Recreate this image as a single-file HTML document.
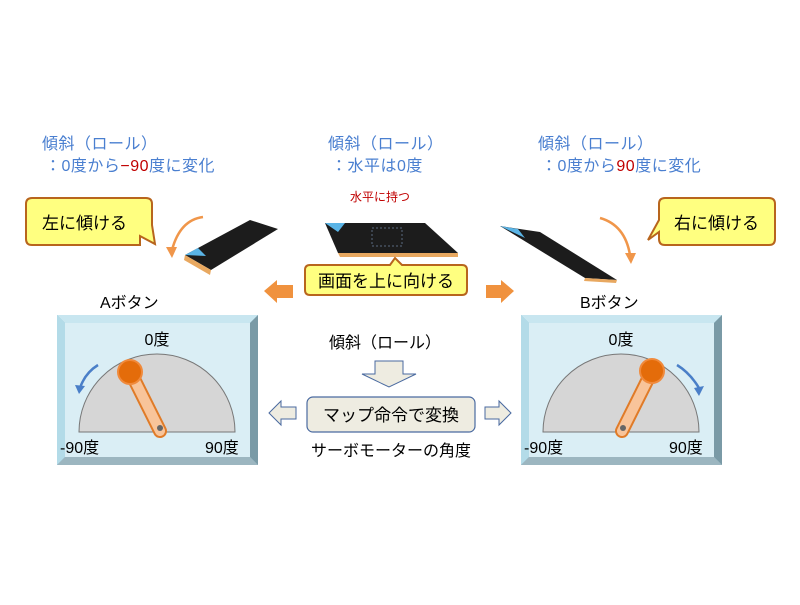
<!DOCTYPE html>
<html><head><meta charset="utf-8"><style>
html,body{margin:0;padding:0;background:#fff}
svg text{font-family:"Liberation Sans","Noto Sans CJK JP",sans-serif}
</style></head><body>
<svg width="800" height="600" viewBox="0 0 800 600" xmlns="http://www.w3.org/2000/svg">
<defs>
<g id="gauge">
  <rect x="0" y="0" width="201" height="150" fill="#8fc3d6"/>
  <polygon points="0,0 201,0 193,8 8,8" fill="#c8e6f0"/>
  <polygon points="0,0 8,8 8,142 0,150" fill="#b3dbe8"/>
  <polygon points="201,0 201,150 193,142 193,8" fill="#7a9aa6"/>
  <polygon points="0,150 201,150 193,142 8,142" fill="#9cb6c0"/>
  <rect x="8" y="8" width="185" height="134" fill="#daeef5"/>
  <path d="M22,117 A78,78 0 0 1 178,117 Z" fill="#d6d6d6" stroke="#777" stroke-width="1"/>
  <text x="100" y="30" font-size="16" text-anchor="middle">0度</text>
  <text x="3" y="138" font-size="16">-90度</text>
  <text x="148" y="138" font-size="16">90度</text>
</g>
</defs>

<!-- top labels -->
<g font-size="16" fill="#4a7fd0" letter-spacing="0.5">
<text x="42" y="149">傾斜（ロール）</text>
<text x="45" y="171">：0度から<tspan fill="#c00000">−90</tspan>度に変化</text>
<text x="328" y="149">傾斜（ロール）</text>
<text x="331" y="171">：水平は0度</text>
<text x="538" y="149">傾斜（ロール）</text>
<text x="541" y="171">：0度から<tspan fill="#c00000">90</tspan>度に変化</text>
</g>
<text x="350" y="201" font-size="12" fill="#c00000">水平に持つ</text>

<!-- callouts -->
<path d="M32,198 H146 Q152,198 152,204 V225 L155,244 L140,236 Q140,245 140,245 H32 Q26,245 26,239 V204 Q26,198 32,198 Z" fill="#ffff80" stroke="#b8651d" stroke-width="2"/>
<text x="42" y="229" font-size="17">左に傾ける</text>
<path d="M665,198 H769 Q775,198 775,204 V239 Q775,245 769,245 H665 Q659,245 659,239 V232 L648,240 L659,220 V204 Q659,198 665,198 Z" fill="#ffff80" stroke="#b8651d" stroke-width="2"/>
<text x="674" y="229" font-size="17">右に傾ける</text>

<!-- curved orange arrows -->
<path d="M203,217 Q180,220 172,250" fill="none" stroke="#f0964a" stroke-width="2.5"/>
<polygon points="166,247 172,258 177,247" fill="#f0964a"/>
<path d="M600,218 Q625,225 630,255" fill="none" stroke="#f0964a" stroke-width="2.5"/>
<polygon points="625,253 631,264 636,253" fill="#f0964a"/>

<!-- micro:bits -->
<polygon points="185,255 250,220 278,229 211,270" fill="#1c1c1c"/>
<polygon points="185,255 211,270 210,275 184,260" fill="#e8a860"/>
<polygon points="185,255 198,248 206,256" fill="#5ab4e6"/>
<polygon points="325,223 425,223 458,253 338,253" fill="#1c1c1c"/>
<polygon points="338,253 458,253 458,257 340,257" fill="#e8a860"/>
<polygon points="325,223 345,223 338,232" fill="#5ab4e6"/>
<rect x="372" y="228" width="30" height="18" fill="none" stroke="#5a6a80" stroke-dasharray="2,2"/>
<polygon points="500,226 540,232 617,280 585,278" fill="#1c1c1c"/>
<polygon points="500,226 518,229 525,238" fill="#5ab4e6"/>
<polygon points="585,278 617,280 616,283 584,281" fill="#e8a860"/>

<!-- orange label -->
<path d="M310,265 H390 L395,258 L402,265 H462 Q467,265 467,270 V290 Q467,295 462,295 H310 Q305,295 305,290 V270 Q305,265 310,265 Z" fill="#ffff80" stroke="#b8651d" stroke-width="2"/>
<text x="386" y="287" font-size="17" text-anchor="middle">画面を上に向ける</text>
<polygon points="264,291 277,280 277,285 293,285 293,298 277,298 277,303" fill="#f0923e"/>
<polygon points="514,291 501,280 501,285 486,285 486,298 501,298 501,303" fill="#f0923e"/>

<text x="100" y="308" font-size="16">Aボタン</text>
<text x="580" y="308" font-size="16">Bボタン</text>

<!-- gauges -->
<g transform="translate(57,315)"><use href="#gauge"/></g>
<g transform="translate(521,315)"><use href="#gauge"/></g>

<!-- left handle -->
<line x1="131" y1="373" x2="160" y2="431" stroke="#e07b28" stroke-width="14" stroke-linecap="round"/>
<line x1="131" y1="373" x2="160" y2="431" stroke="#f8c49a" stroke-width="10" stroke-linecap="round"/>
<circle cx="160" cy="428" r="3" fill="#666"/>
<circle cx="130" cy="372" r="12" fill="#e46c0a" stroke="#f08a3c" stroke-width="2"/>
<path d="M98,365 Q85,373 80,388" fill="none" stroke="#4a7fc8" stroke-width="2.5"/>
<polygon points="75,385 79,394 85,386" fill="#4a7fc8"/>

<!-- right handle -->
<line x1="651" y1="373" x2="622" y2="431" stroke="#e07b28" stroke-width="14" stroke-linecap="round"/>
<line x1="651" y1="373" x2="622" y2="431" stroke="#f8c49a" stroke-width="10" stroke-linecap="round"/>
<circle cx="623" cy="428" r="3" fill="#666"/>
<circle cx="652" cy="371" r="12" fill="#e46c0a" stroke="#f08a3c" stroke-width="2"/>
<path d="M677,365 Q690,373 699,388" fill="none" stroke="#4a7fc8" stroke-width="2.5"/>
<polygon points="694,388 699,396 704,386" fill="#4a7fc8"/>

<!-- center -->
<text x="385" y="348" font-size="16" text-anchor="middle">傾斜（ロール）</text>
<polygon points="375,361 403,361 403,374 416,374 389,387 362,374 375,374" fill="#eeece1" stroke="#4a6aa0" stroke-width="1"/>
<rect x="307" y="397" width="168" height="35" rx="6" fill="#eeece1" stroke="#4a6aa0" stroke-width="1.2"/>
<text x="391" y="421" font-size="17" text-anchor="middle">マップ命令で変換</text>
<polygon points="269,413 281,401 281,407 296,407 296,419 281,419 281,425" fill="#eeece1" stroke="#4a6aa0" stroke-width="1"/>
<polygon points="511,413 499,401 499,407 485,407 485,419 499,419 499,425" fill="#eeece1" stroke="#4a6aa0" stroke-width="1"/>
<text x="391" y="456" font-size="16" text-anchor="middle">サーボモーターの角度</text>
</svg>
</body></html>
